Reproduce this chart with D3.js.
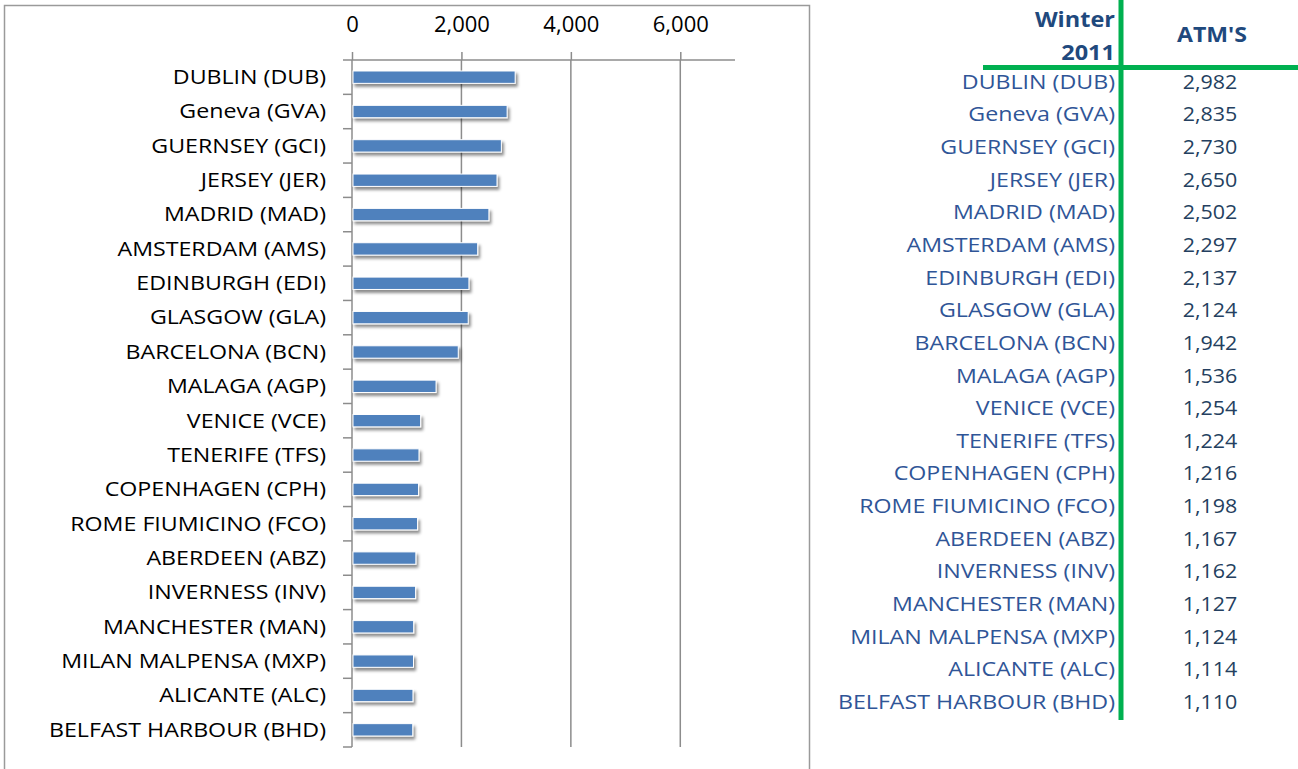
<!DOCTYPE html>
<html>
<head>
<meta charset="utf-8">
<script src="https://cdn.jsdelivr.net/npm/d3@7"></script>
<style>
  body { margin: 0; background: #fff; }
  svg text { font-family: "Open Sans", "Noto Sans", sans-serif; }
</style>
</head>
<body>
<div id="chart"></div>
<script>
var airports = ["DUBLIN (DUB)", "Geneva (GVA)", "GUERNSEY (GCI)", "JERSEY (JER)", "MADRID (MAD)",
  "AMSTERDAM (AMS)", "EDINBURGH (EDI)", "GLASGOW (GLA)", "BARCELONA (BCN)", "MALAGA (AGP)",
  "VENICE (VCE)", "TENERIFE (TFS)", "COPENHAGEN (CPH)", "ROME FIUMICINO (FCO)", "ABERDEEN (ABZ)",
  "INVERNESS (INV)", "MANCHESTER (MAN)", "MILAN MALPENSA (MXP)", "ALICANTE (ALC)", "BELFAST HARBOUR (BHD)"];
var atms = [2982, 2835, 2730, 2650, 2502, 2297, 2137, 2124, 1942, 1536,
  1254, 1224, 1216, 1198, 1167, 1162, 1127, 1124, 1114, 1110];
var xTicks = [0, 2000, 4000, 6000];
var headerCol1 = ["Winter", "2011"];
var headerCol2 = "ATM'S";

var width = 1298, height = 769;
var svg = d3.select("#chart").append("svg")
  .attr("width", width).attr("height", height);

// shadow for bars
var defs = svg.append("defs");
var f = defs.append("filter").attr("id", "shadow")
  .attr("x", "-10%").attr("y", "-50%").attr("width", "130%").attr("height", "250%");
f.append("feDropShadow").attr("dx", 2).attr("dy", 3).attr("stdDeviation", 1.8)
  .attr("flood-color", "#000").attr("flood-opacity", 0.45);

// chart frame
svg.append("rect").attr("x", 4.5).attr("y", 5.5).attr("width", 805).attr("height", 780)
  .attr("fill", "none").attr("stroke", "#9a9a9a").attr("stroke-width", 1.5);

var x = d3.scaleLinear().domain([0, 7000]).range([352, 735]);
var y = d3.scaleBand().domain(airports).range([60, 747]).paddingInner(0.64).paddingOuter(0.32);
var yb = d3.scaleBand().domain(airports).range([60, 747]);

var g = svg.append("g");

// vertical gridlines
g.selectAll(".grid").data(xTicks.slice(1)).enter().append("line")
  .attr("x1", function(d) { return x(d); }).attr("x2", function(d) { return x(d); })
  .attr("y1", 60).attr("y2", 747)
  .attr("stroke", "#8c8c8c").attr("stroke-width", 1.5);

// top axis
var xAxis = g.append("g").attr("transform", "translate(0,60)")
  .call(d3.axisTop(x).tickValues(xTicks).tickFormat(d3.format(",")).tickSize(8).tickPadding(20).tickSizeOuter(0));
xAxis.select(".domain").remove();
xAxis.append("line").attr("x1", 343).attr("x2", 735).attr("stroke", "#8c8c8c").attr("stroke-width", 1.5);
xAxis.selectAll(".tick line").attr("stroke", "#8c8c8c").attr("stroke-width", 1.5);
xAxis.selectAll(".tick text").attr("fill", "#000").style("font-size", "22px")
  .style("font-family", "'Open Sans', sans-serif");

// left category axis
var sx = 1.19; // labels are a bit wider than Open Sans
var yAxis = g.append("g").attr("transform", "translate(352,0)");
yAxis.append("line").attr("y1", 60).attr("y2", 747).attr("stroke", "#8c8c8c").attr("stroke-width", 1.5);
yAxis.selectAll(".bt").data(airports).enter().append("line")
  .attr("x1", -9).attr("x2", 0)
  .attr("y1", function(d) { return yb(d) + yb.bandwidth(); })
  .attr("y2", function(d) { return yb(d) + yb.bandwidth(); })
  .attr("stroke", "#8c8c8c").attr("stroke-width", 1.5);
yAxis.selectAll(".lbl").data(airports).enter().append("text")
  .attr("transform", function(d) { return "translate(-26," + (yb(d) + yb.bandwidth() / 2) + ") scale(" + sx + ",1)"; })
  .attr("dy", "0.35em").attr("text-anchor", "end")
  .style("font-size", "19.5px").attr("fill", "#000")
  .text(function(d) { return d; });

// bars
g.selectAll(".bar").data(airports).enter().append("rect")
  .attr("x", x(0) + 1)
  .attr("y", function(d) { return y(d); })
  .attr("width", function(d, i) { return x(atms[i]) - x(0) - 1; })
  .attr("height", y.bandwidth())
  .attr("fill", "#4f81bd").attr("stroke", "#fff").attr("stroke-width", 1)
  .attr("filter", "url(#shadow)");

// table on the right
var tabY = d3.scalePoint().domain(airports).range([82, 702]);
var blue = "#2f5597", dark = "#243f60";
var t = svg.append("g");

t.selectAll(".hw").data(headerCol1).enter().append("text")
  .attr("transform", function(d, i) { return "translate(1115," + (27 + i * 33) + ") scale(1.12,1)"; })
  .attr("text-anchor", "end")
  .style("font-size", "21px").style("font-weight", "bold").attr("fill", "#1f497d")
  .text(function(d) { return d; });
t.append("text").attr("transform", "translate(1212,42) scale(1.1,1)").attr("text-anchor", "middle")
  .style("font-size", "21px").style("font-weight", "bold").attr("fill", "#1f497d")
  .text(headerCol2);

t.selectAll(".tl").data(airports).enter().append("text")
  .attr("transform", function(d) { return "translate(1115," + tabY(d) + ") scale(" + sx + ",1)"; })
  .attr("dy", "0.35em").attr("text-anchor", "end")
  .style("font-size", "19.5px").attr("fill", blue)
  .text(function(d) { return d; });
t.selectAll(".tv").data(atms).enter().append("text")
  .attr("transform", function(d, i) { return "translate(1210," + tabY(airports[i]) + ") scale(1.1,1)"; })
  .attr("dy", "0.35em").attr("text-anchor", "middle")
  .style("font-size", "19.5px").attr("fill", dark)
  .text(function(d) { return d3.format(",")(d); });

// green rules
t.append("line").attr("x1", 983).attr("x2", 1298).attr("y1", 67.5).attr("y2", 67.5)
  .attr("stroke", "#00b050").attr("stroke-width", 5);
t.append("line").attr("x1", 1121).attr("x2", 1121).attr("y1", 0).attr("y2", 720)
  .attr("stroke", "#00b050").attr("stroke-width", 5);
</script>
</body>
</html>
